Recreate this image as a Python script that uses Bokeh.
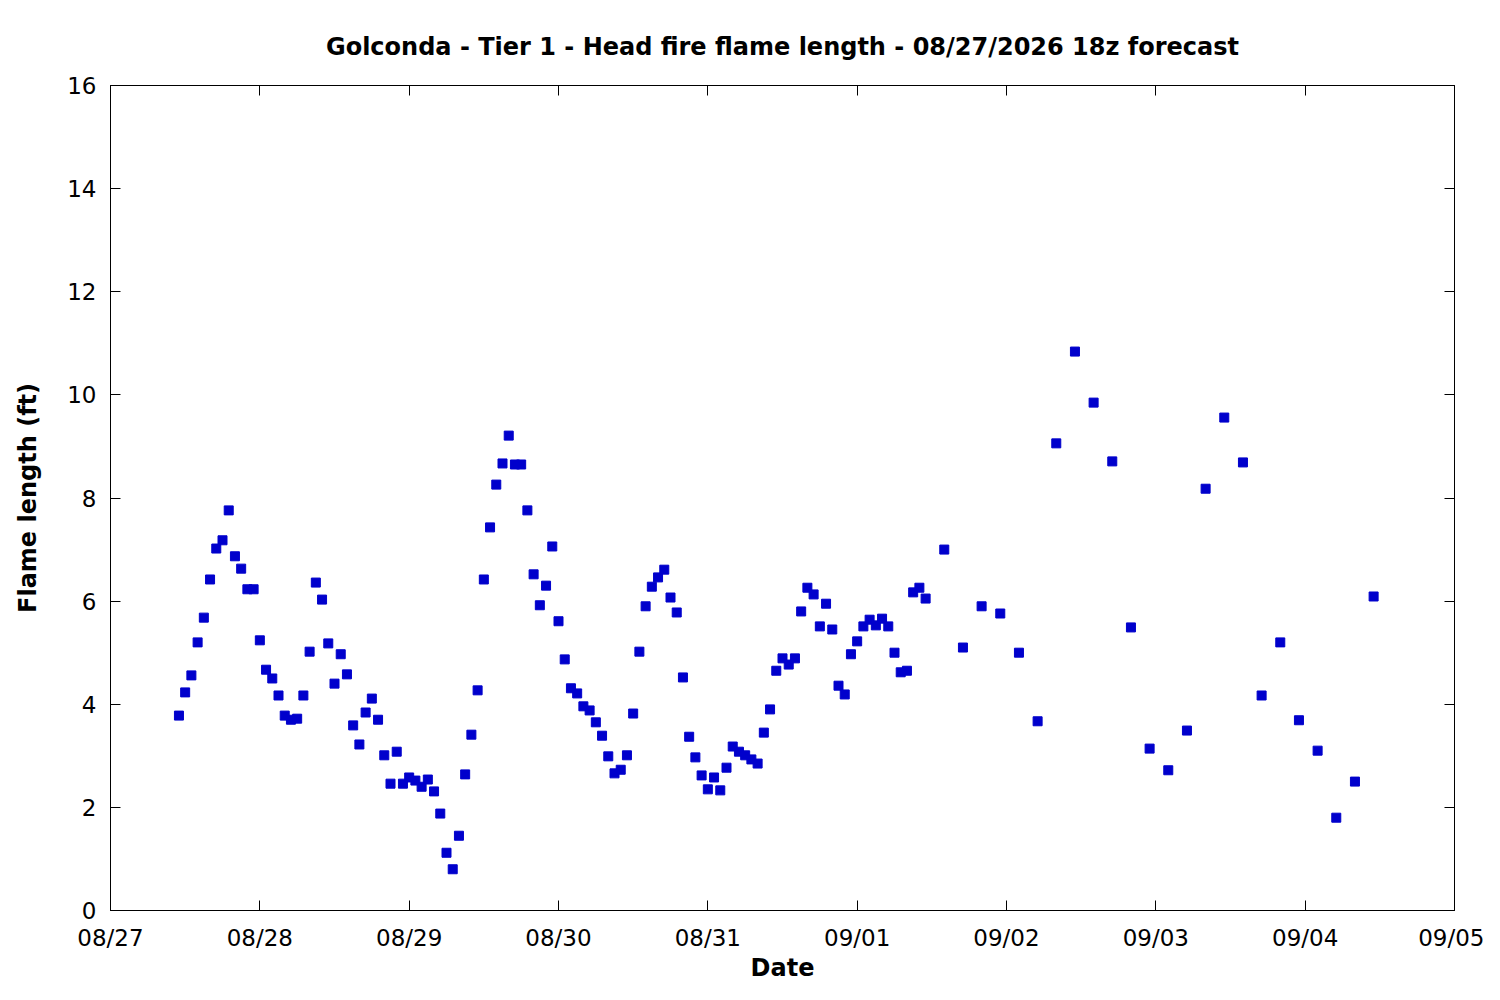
import pandas as pd
from bokeh.plotting import figure
from bokeh.models import Range1d, FixedTicker, DatetimeTickFormatter, LinearAxis, DatetimeAxis
from bokeh.embed import file_html
from bokeh.resources import INLINE

# ---- data ----
hourly_start = "2026-08-27 11:00"
hourly_flame = [
    3.78, 4.23, 4.56, 5.20, 5.68, 6.42, 7.02, 7.18, 7.76, 6.87, 6.63, 6.23, 6.23,
    5.24, 4.67, 4.50, 4.17, 3.78, 3.70, 3.72, 4.17, 5.02, 6.36, 6.03, 5.18, 4.40,
    4.97, 4.58, 3.59, 3.22, 3.84, 4.11, 3.70, 3.01, 2.46, 3.08, 2.46, 2.58, 2.52,
    2.40, 2.54, 2.31, 1.88, 1.12, 0.80, 1.45, 2.64, 3.41, 4.27, 6.42, 7.43, 8.26,
    8.67, 9.21, 8.65, 8.65, 7.76, 6.52, 5.92, 6.30, 7.06, 5.61, 4.87, 4.31, 4.21,
    3.96, 3.88, 3.65, 3.39, 2.99, 2.66, 2.73, 3.01, 3.82, 5.02, 5.90, 6.28, 6.46,
    6.61, 6.07, 5.78, 4.52, 3.37, 2.97, 2.62, 2.35, 2.58, 2.33, 2.77, 3.18, 3.08,
    3.01, 2.93, 2.85, 3.45, 3.90, 4.65, 4.89, 4.77, 4.89, 5.80, 6.26, 6.13, 5.51,
    5.95, 5.45, 4.36, 4.19, 4.97, 5.22, 5.51, 5.64, 5.53, 5.66, 5.51, 5.00, 4.62,
    4.65, 6.17, 6.26, 6.05,
]
three_hourly_start = "2026-09-01 14:00"
three_hourly_flame = [
    7.00, 5.10, 5.90, 5.76, 5.00, 3.67, 9.06, 10.84, 9.85, 8.71, 5.49, 3.14,
    2.72, 3.49, 8.18, 9.56, 8.69, 4.17, 5.20, 3.69, 3.10, 1.80, 2.50, 6.09,
]
tick_days = ["2026-08-27", "2026-08-28", "2026-08-29", "2026-08-30", "2026-08-31",
             "2026-09-01", "2026-09-02", "2026-09-03", "2026-09-04", "2026-09-05"]
y_ticks = [0, 2, 4, 6, 8, 10, 12, 14, 16]

times = list(pd.date_range(hourly_start, periods=len(hourly_flame), freq="1h")) + \
        list(pd.date_range(three_hourly_start, periods=len(three_hourly_flame), freq="3h"))
flame = hourly_flame + three_hourly_flame

tick_ms = [pd.Timestamp(d).value // 10**6 for d in tick_days]

FONT = "DejaVu Sans"
FS_TICK = "23px"
FS_BOLD = "24px"

p = figure(
    width=1484, height=984, x_axis_type="datetime",
    output_backend="svg", toolbar_location=None,
    x_range=Range1d(pd.Timestamp(tick_days[0]), pd.Timestamp(tick_days[-1])),
    y_range=Range1d(0, 16),
    min_border_left=110, min_border_right=30, min_border_top=85, min_border_bottom=74,
    title="Golconda - Tier 1 - Head fire flame length - 08/27/2026 18z forecast",
)
p.title.align = "center"
p.title.text_font = FONT
p.title.text_font_size = FS_BOLD
p.title.text_font_style = "bold"
p.title.text_color = "black"
p.title.standoff = 50

p.xgrid.visible = False
p.ygrid.visible = False
p.outline_line_color = "black"
p.outline_line_width = 1
p.outline_line_alpha = 1

fmt = DatetimeTickFormatter(
    milliseconds="%m/%d", seconds="%m/%d", minsec="%m/%d", minutes="%m/%d",
    hourmin="%m/%d", hours="%m/%d", days="%m/%d", months="%m/%d", years="%m/%d",
)

def style_axis(ax):
    ax.axis_line_color = "black"
    ax.major_tick_line_color = "black"
    ax.major_tick_in = 10
    ax.major_tick_out = 0
    ax.minor_tick_line_color = None
    ax.major_label_text_font = FONT
    ax.major_label_text_font_size = FS_TICK
    ax.major_label_text_color = "black"
    ax.axis_label_text_font = FONT
    ax.axis_label_text_font_size = FS_BOLD
    ax.axis_label_text_font_style = "bold"
    ax.axis_label_text_color = "black"

xa = p.xaxis[0]
xa.ticker = FixedTicker(ticks=tick_ms)
xa.formatter = fmt
xa.axis_label = "Date"
style_axis(xa)
xa.major_label_standoff = 14
xa.axis_label_standoff = 0

ya = p.yaxis[0]
ya.ticker = FixedTicker(ticks=y_ticks)
ya.axis_label = "Flame length (ft)"
style_axis(ya)
ya.major_label_standoff = 14
ya.axis_label_standoff = 22

top = DatetimeAxis(ticker=FixedTicker(ticks=tick_ms), formatter=fmt)
style_axis(top)
top.major_label_text_font_size = "1px"
top.major_label_text_color = None
top.major_label_standoff = 0
p.add_layout(top, "above")

right = LinearAxis(ticker=FixedTicker(ticks=y_ticks))
style_axis(right)
right.major_label_text_font_size = "1px"
right.major_label_text_color = None
right.major_label_standoff = 0
p.add_layout(right, "right")

p.scatter(x=times, y=flame, marker="square", size=9, color="#0000cc", line_color="#0000cc")

open("out.html", "w").write(file_html(p, INLINE))
